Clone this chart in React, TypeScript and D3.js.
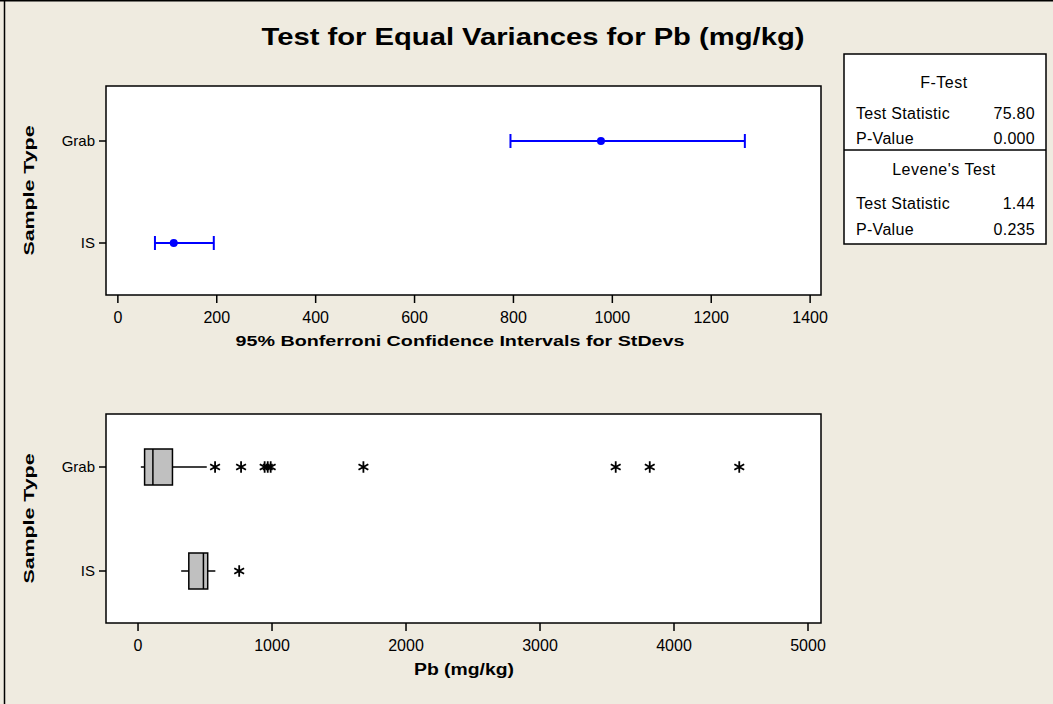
import * as d3 from "d3";

const groups = ["Grab", "IS"];

// 95% Bonferroni CIs for StDevs
const ciLower = [794, 75];
const ciSigma = [977, 113];
const ciUpper = [1268, 194];

// boxplot summary, Pb (mg/kg)
const whiskerLo = [21, 322];
const q1 = [49, 379];
const median = [111, 488];
const q3 = [257, 520];
const whiskerHi = [513, 577];
const outliers = [
  [575, 769, 945, 968, 990, 1682, 3565, 3819, 4487],
  [755],
];

const topTicks = [0, 200, 400, 600, 800, 1000, 1200, 1400];
const bottomTicks = [0, 1000, 2000, 3000, 4000, 5000];

const fTest = [
  ["Test Statistic", "75.80"],
  ["P-Value", "0.000"],
];
const leveneTest = [
  ["Test Statistic", "1.44"],
  ["P-Value", "0.235"],
];

const W = 1053;
const H = 704;
const BG = "#efebe0";
const FONT = "'Liberation Sans', Arial, sans-serif";

const left = 106;
const right = 821;
const top1 = 86;
const bot1 = 295;
const top2 = 414;
const bot2 = 623;

export default function App() {
  const x1 = d3.scaleLinear().domain([-24, 1422]).range([left, right]);
  const y1 = d3.scalePoint().domain(groups).range([141, 243]);
  const x2 = d3.scaleLinear().domain([-239, 5097]).range([left, right]);
  const y2 = d3.scalePoint().domain(groups).range([467, 571]);

  const star = d3.symbol(d3.symbolAsterisk, 90)();
  const boxH = 36;

  const yAxis = (y: d3.ScalePoint<string>, top: number, bot: number, key: string) => (
    <g key={key}>
      {groups.map((g) => (
        <g key={g}>
          <line x1={left - 7} x2={left} y1={y(g)} y2={y(g)} stroke="#000" strokeWidth={1.5} />
          <text x={left - 11} y={y(g)} dy="0.35em" textAnchor="end" fontSize={15}>
            {g}
          </text>
        </g>
      ))}
      <text
        transform={`translate(34,${(top + bot) / 2}) rotate(-90)`}
        textAnchor="middle"
        fontSize={15}
        fontWeight="bold"
        textLength={130}
        lengthAdjust="spacingAndGlyphs"
      >
        Sample Type
      </text>
    </g>
  );

  const xAxis = (x: d3.ScaleLinear<number, number>, ticks: number[], bot: number) =>
    ticks.map((t) => (
      <g key={t}>
        <line x1={x(t)} x2={x(t)} y1={bot} y2={bot + 8} stroke="#000" strokeWidth={1.5} />
        <text x={x(t)} y={bot + 22} dy="0.35em" textAnchor="middle" fontSize={16}>
          {t}
        </text>
      </g>
    ));

  return (
    <svg width={W} height={H} style={{ display: "block", position: "absolute", left: 0, top: 0 }} fontFamily={FONT}>
      <rect width={W} height={H} fill={BG} />
      <line x1={4.5} x2={4.5} y1={0} y2={H} stroke="#000" strokeWidth={1.5} />
      <line x1={0} x2={W} y1={0.75} y2={0.75} stroke="#000" strokeWidth={1.5} />

      <text
        x={533}
        y={37}
        dy="0.35em"
        textAnchor="middle"
        fontSize={24}
        fontWeight="bold"
        textLength={543}
        lengthAdjust="spacingAndGlyphs"
      >
        Test for Equal Variances for Pb (mg/kg)
      </text>

      {/* top panel: confidence intervals */}
      <rect x={left} y={top1} width={right - left} height={bot1 - top1} fill="#fff" stroke="#000" strokeWidth={1.5} />
      {yAxis(y1, top1, bot1, "y1")}
      {xAxis(x1, topTicks, bot1)}
      <text
        x={460}
        y={341}
        dy="0.35em"
        textAnchor="middle"
        fontSize={15}
        fontWeight="bold"
        textLength={449}
        lengthAdjust="spacingAndGlyphs"
      >
        95% Bonferroni Confidence Intervals for StDevs
      </text>
      {groups.map((g, i) => {
        const yy = y1(g) as number;
        return (
          <g key={g} stroke="#0000ff" strokeWidth={2}>
            <line x1={x1(ciLower[i])} x2={x1(ciUpper[i])} y1={yy} y2={yy} />
            <line x1={x1(ciLower[i])} x2={x1(ciLower[i])} y1={yy - 7} y2={yy + 7} />
            <line x1={x1(ciUpper[i])} x2={x1(ciUpper[i])} y1={yy - 7} y2={yy + 7} />
            <circle cx={x1(ciSigma[i])} cy={yy} r={4} fill="#0000ff" stroke="none" />
          </g>
        );
      })}

      {/* bottom panel: boxplots */}
      <rect x={left} y={top2} width={right - left} height={bot2 - top2} fill="#fff" stroke="#000" strokeWidth={1.5} />
      {yAxis(y2, top2, bot2, "y2")}
      {xAxis(x2, bottomTicks, bot2)}
      <text
        x={464}
        y={669}
        dy="0.35em"
        textAnchor="middle"
        fontSize={16}
        fontWeight="bold"
        textLength={100}
        lengthAdjust="spacingAndGlyphs"
      >
        Pb (mg/kg)
      </text>
      {groups.map((g, i) => {
        const yy = y2(g) as number;
        return (
          <g key={g}>
            <line x1={x2(whiskerLo[i])} x2={x2(q1[i])} y1={yy} y2={yy} stroke="#000" strokeWidth={1.5} />
            <line x1={x2(q3[i])} x2={x2(whiskerHi[i])} y1={yy} y2={yy} stroke="#000" strokeWidth={1.5} />
            <rect
              x={x2(q1[i])}
              y={yy - boxH / 2}
              width={x2(q3[i]) - x2(q1[i])}
              height={boxH}
              fill="#c0c0c0"
              stroke="#000"
              strokeWidth={1.5}
            />
            <line x1={x2(median[i])} x2={x2(median[i])} y1={yy - boxH / 2} y2={yy + boxH / 2} stroke="#000" strokeWidth={1.5} />
            {outliers[i].map((v, j) => (
              <path key={j} d={star as string} transform={`translate(${x2(v)},${yy})`} stroke="#000" strokeWidth={1.8} fill="none" />
            ))}
          </g>
        );
      })}

      {/* legend table */}
      <rect x={844} y={54} width={202} height={190} fill="#fff" stroke="#000" strokeWidth={1.5} />
      <line x1={844} x2={1046} y1={150} y2={150} stroke="#000" strokeWidth={1.5} />
      <text x={944} y={82} dy="0.35em" textAnchor="middle" fontSize={16} letterSpacing={0.5}>
        F-Test
      </text>
      {fTest.map((r, i) => (
        <g key={r[0]} fontSize={16}>
          <text x={856} y={113 + i * 25} dy="0.35em" letterSpacing={0.3}>{r[0]}</text>
          <text x={1035} y={113 + i * 25} dy="0.35em" textAnchor="end" letterSpacing={0.3}>{r[1]}</text>
        </g>
      ))}
      <text x={944} y={169} dy="0.35em" textAnchor="middle" fontSize={16} letterSpacing={0.5}>
        Levene's Test
      </text>
      {leveneTest.map((r, i) => (
        <g key={r[0]} fontSize={16}>
          <text x={856} y={203 + i * 26} dy="0.35em" letterSpacing={0.3}>{r[0]}</text>
          <text x={1035} y={203 + i * 26} dy="0.35em" textAnchor="end" letterSpacing={0.3}>{r[1]}</text>
        </g>
      ))}
    </svg>
  );
}
